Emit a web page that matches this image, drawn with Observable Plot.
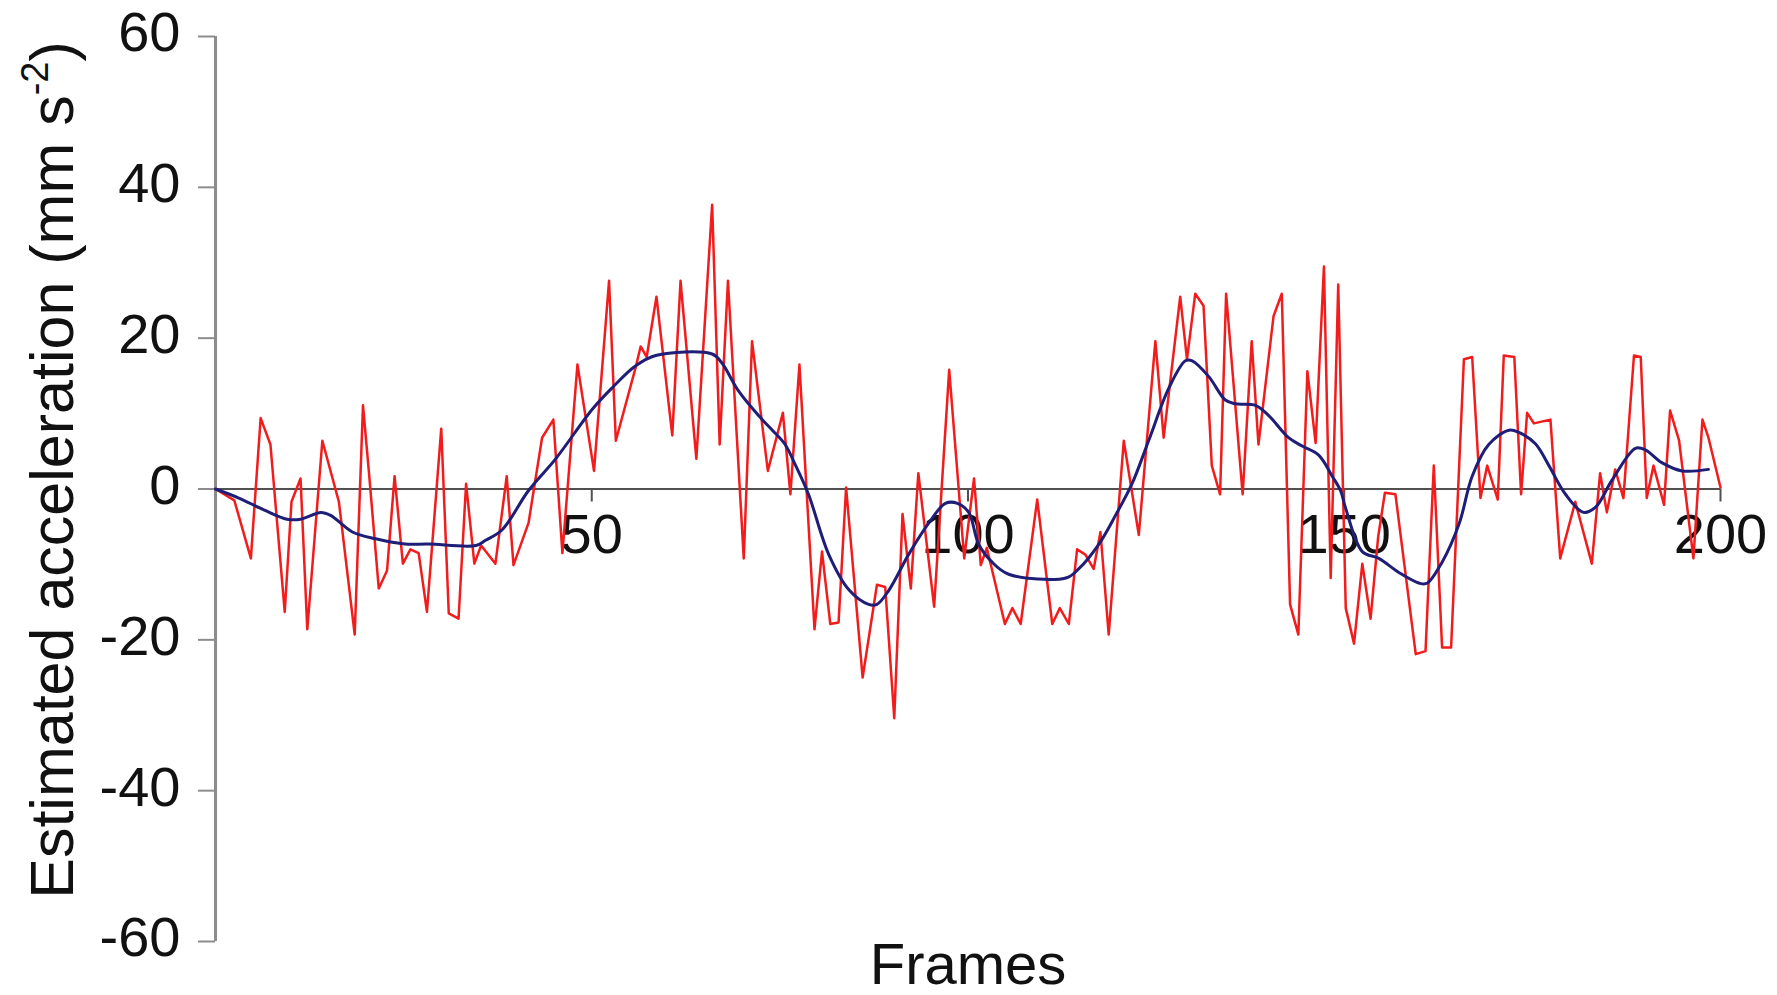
<!DOCTYPE html>
<html>
<head>
<meta charset="utf-8">
<script src="https://cdn.jsdelivr.net/npm/d3@7"></script>
<script src="https://cdn.jsdelivr.net/npm/@observablehq/plot@0.6"></script>
<style>
  html, body { margin: 0; padding: 0; background: #ffffff; }
  #chart svg { display: block; }
</style>
</head>
<body>
<div id="chart"></div>
<script>
// ---- Data ----
const redFrames = [0, 2.5, 4.7, 6.0, 7.3, 9.2, 10.1, 11.3, 12.2, 14.2, 16.4, 18.5, 19.6, 20.4, 21.7, 22.8, 23.8, 24.9,
  25.9, 27.0, 28.1, 30.0, 31.0, 32.3, 33.3, 34.4, 35.3, 37.2, 38.7, 39.6, 41.6, 43.4, 44.9, 46.1, 48.1, 50.3,
  52.3, 53.2, 55.8, 56.5, 57.3, 58.6, 60.7, 61.8, 63.9, 66.0, 67.0, 68.1, 70.2, 71.3, 73.4, 75.4,
  76.4, 77.6, 79.6, 80.6, 81.7, 82.8, 83.8, 86.0, 87.9, 89.0, 90.2, 91.3, 92.4, 93.4, 95.5, 97.5, 99.5, 100.8,
  101.7, 102.5, 104.9, 105.9, 107.0, 109.2, 111.2, 112.2, 113.4, 114.5, 115.6, 116.7, 117.6, 118.7, 120.7, 122.7, 124.9,
  126.0, 128.2, 129.1, 130.2, 131.3, 132.4, 133.5, 134.3, 136.5, 137.7, 138.6, 140.6, 141.7, 142.8, 143.9, 145.1, 146.2, 147.3, 148.2, 149.2, 150.2, 151.3,
  152.4, 153.5, 154.5, 155.4, 156.8, 159.5, 160.8, 161.9, 163.0, 164.2, 165.9, 167.0, 168.1, 169.0, 170.4, 171.2, 172.6, 173.5, 174.3, 175.2,
  177.4, 178.7, 180.7, 182.9, 184.0, 184.9, 186.0, 187.1, 188.5, 189.4, 190.2, 191.1, 192.5, 193.3, 194.5, 196.4, 197.6, 198.4, 200.0];
const redValues = [0, -1.5, -9.2, 9.4, 5.9, -16.3, -1.7, 1.4, -18.6, 6.4, -1.7, -19.3, 11.1, 2.1, -13.2, -10.8, 1.7, -9.9,
  -8.0, -8.5, -16.3, 8.0, -16.5, -17.2, 0.7, -9.9, -7.5, -9.9, 1.7, -10.1, -4.5, 6.8, 9.2, -8.5, 16.5, 2.4,
  27.6, 6.4, 16.0, 18.9, 17.5, 25.5, 7.1, 27.6, 4.0, 37.7, 5.9, 27.6, -9.2, 19.6, 2.4, 10.1,
  -0.7, 16.5, -18.6, -8.3, -17.9, -17.7, 0.2, -25.0, -12.7, -13.0, -30.4, -3.3, -13.2, 2.1, -15.6, 15.8, -9.2, 1.4,
  -10.1, -7.8, -17.9, -15.8, -17.9, -1.4, -17.9, -15.8, -17.9, -8.0, -8.7, -10.6, -5.7, -19.3, 6.4, -6.1, 19.6,
  6.8, 25.5, 17.2, 25.9, 24.3, 3.1, -0.7, 25.9, -0.7, 19.6, 5.9, 22.9, 25.9, -15.3, -19.3, 15.6, 6.1, 29.5, -11.8, 27.1, -15.8, -20.5,
  -9.9, -17.2, -6.4, -0.5, -0.7, -21.9, -21.5, 3.1, -21.0, -21.0, 17.2, 17.5, -1.2, 3.1, -1.4, 17.7, 17.5, -0.7, 10.1, 8.7,
  9.2, -9.2, -1.7, -9.9, 2.1, -3.1, 2.6, -1.2, 17.7, 17.5, -1.2, 3.1, -2.1, 10.4, 6.4, -9.2, 9.2, 6.8, 0.2];

const blueFrames = [0, 3.1, 6.5, 9.5, 11.3, 14.0, 15.3, 18.2, 21.3, 25.2, 28.3, 34.6, 35.9, 38.1, 41.6, 45.2, 50.1,
  52.7, 55.8, 58.5, 66.0, 67.3, 69.5, 72.2, 74.0, 75.7, 77.1, 78.8, 81.5, 84.2, 86.8, 87.9, 89.5, 92.1, 94.8,
  97.0, 98.6, 100.1, 101.4, 103.2, 105.4, 113.0, 114.7, 117.4, 119.6, 121.8, 124.0, 126.7, 128.9, 129.8, 132.0,
  134.2, 135.5, 138.2, 140.0, 142.6, 144.4, 146.6, 148.4, 149.5, 150.2, 152.4, 154.6, 157.3, 160.0, 161.0, 163.0,
  165.3, 167.0, 169.2, 171.9, 173.2, 175.4, 177.2, 179.4, 181.8, 183.4, 185.6, 188.7, 190.0, 192.2, 194.9, 198.4];
const blueValues = [0, -1.2, -2.8, -4.0, -4.0, -3.1, -3.5, -5.7, -6.6, -7.3, -7.3, -7.5, -6.8, -5.4, -0.2, 4.0, 10.6,
  13.4, 16.3, 17.7, 17.9, 16.7, 13.0, 9.7, 7.8, 5.9, 3.1, -0.7, -8.7, -13.4, -15.3, -15.3, -13.4, -8.7, -4.5,
  -1.9, -1.9, -3.1, -7.3, -9.7, -11.3, -11.8, -10.6, -7.3, -3.5, 0.7, 6.4, 13.4, 17.0, 17.0, 14.9,
  11.8, 11.3, 11.1, 9.7, 6.8, 5.7, 4.5, 1.7, -0.2, -2.6, -8.3, -9.2, -11.1, -12.5, -12.5, -9.7,
  -4.5, 1.7, 5.9, 7.8, 7.5, 6.0, 3.1, -0.7, -3.1, -2.4, 1.2, 5.4, 5.2, 3.5, 2.4, 2.6];

const xTicks = [50, 100, 150, 200];
const yTicks = [-60, -40, -20, 0, 20, 40, 60];
const xLabel = "Frames";
const yLabelMain = "Estimated acceleration (mm s";
const yLabelSup = "-2";
const yLabelEnd = ")";

// ---- Build tables ----
const red = redFrames.map((f, i) => ({frame: f, value: redValues[i]}));
const blue = blueFrames.map((f, i) => ({frame: f, value: blueValues[i]}));

const FONT = "'Liberation Sans', Arial, Helvetica, sans-serif";

const chart = Plot.plot({
  width: 1777,
  height: 995,
  marginLeft: 215,
  marginRight: 57,
  marginTop: 36,
  marginBottom: 54,
  x: {domain: [0, 200], axis: null},
  y: {domain: [-60, 60], axis: null},
  style: {fontFamily: FONT, background: "#ffffff", color: "#111111", overflow: "visible"},
  marks: [
    // y axis line and ticks
    Plot.ruleX([0], {y1: -60, y2: 60, stroke: "#8c8c8c", strokeWidth: 3}),
    Plot.ruleY(yTicks, {y: d => d, x1: 0, x2: 0, insetLeft: -17, stroke: "#8c8c8c", strokeWidth: 2}),
    Plot.text(yTicks, {x: 0, y: d => d, text: d => String(d), textAnchor: "end", dx: -35, dy: -3, fontSize: 56, fill: "#111111"}),
    // x axis at zero
    Plot.ruleY([0], {x1: 0, x2: 200, stroke: "#505050", strokeWidth: 2}),
    Plot.ruleX(xTicks, {x: d => d, y1: 0, y2: 0, insetBottom: -13, stroke: "#505050", strokeWidth: 2}),
    Plot.text(xTicks, {x: d => d, y: 0, text: d => String(d), dy: 46, fontSize: 56, fill: "#111111"}),
    // series
    Plot.line(red, {x: "frame", y: "value", stroke: "#f21c1c", strokeWidth: 2.5, strokeLinejoin: "round"}),
    Plot.line(blue, {x: "frame", y: "value", stroke: "#1e1e78", strokeWidth: 3, curve: "catmull-rom"}),
    // x label
    Plot.text([xLabel], {frameAnchor: "bottom", dy: 42, fontSize: 58, fill: "#111111"})
  ]
});

// y-axis title with superscript
const svg = d3.select(chart);
const t = svg.append("text")
  .attr("transform", "translate(73,470) rotate(-90)")
  .attr("text-anchor", "middle")
  .attr("font-family", FONT)
  .attr("font-size", 61)
  .attr("fill", "#111111");
t.append("tspan").text(yLabelMain);
t.append("tspan").attr("font-size", 38).attr("dy", -25).text(yLabelSup);
t.append("tspan").attr("dy", 25).text(yLabelEnd);

document.getElementById("chart").appendChild(chart);
</script>
</body>
</html>
